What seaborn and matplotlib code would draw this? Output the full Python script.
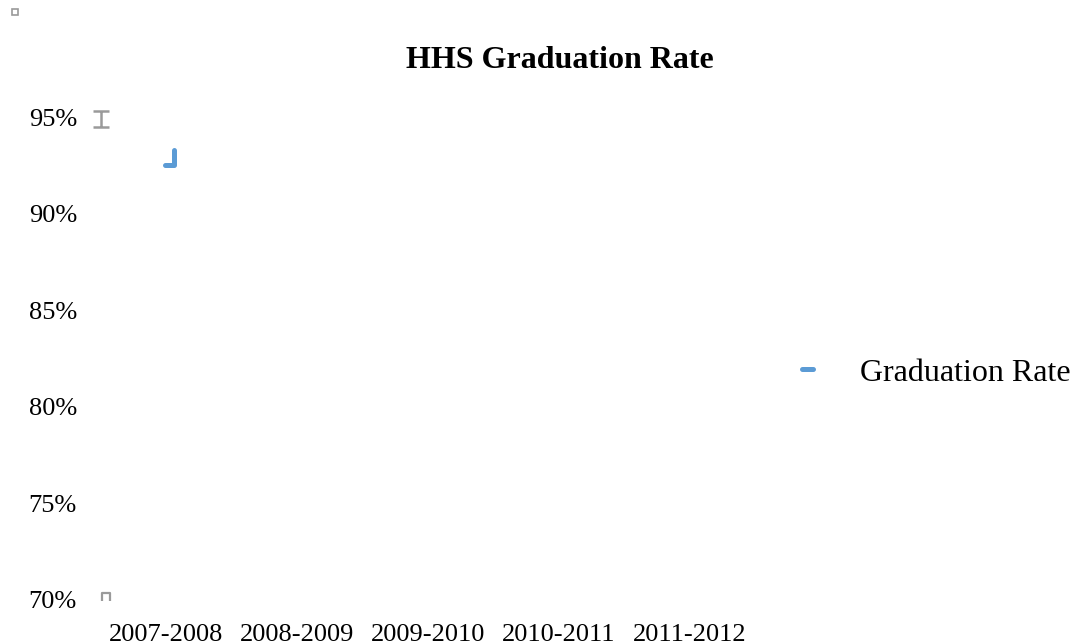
import seaborn as sns
import matplotlib.pyplot as plt
import numpy as np
import pandas as pd
from matplotlib.path import Path
from matplotlib.markers import MarkerStyle
from matplotlib.lines import Line2D

# data
years = ["2007-2008", "2008-2009", "2009-2010", "2010-2011", "2011-2012"]
grad_rate = [92.54, np.nan, np.nan, np.nan, np.nan]
y_ticks = [70, 75, 80, 85, 90, 95]

df = pd.DataFrame({"pos": np.arange(len(years)), "rate": grad_rate})

sns.set_theme(style="white")
plt.rcParams['font.family'] = ['Liberation Serif', 'DejaVu Serif']
plt.rcParams['text.color'] = 'black'

blue = "#5B9BD5"
grey = "#9a9a9a"

fig = plt.figure(figsize=(10.78, 6.44), dpi=100)
ax = fig.add_axes([100.5 / 1078, 44 / 644, 655 / 1078, 483 / 644])

# the squashed line shows up as a little L shape
l_mark = MarkerStyle(Path([(-0.05, 0), (0.5, 0), (0.5, 1.0)],
                          [Path.MOVETO, Path.LINETO, Path.LINETO]),
                     fillstyle="none", joinstyle="round", capstyle="round")
sns.lineplot(data=df, x="pos", y="rate", ax=ax, color=blue, linewidth=3.6,
             marker=l_mark, markersize=22, markeredgewidth=3.6,
             markeredgecolor=blue, legend=False)

ax.set_xlim(-0.5, len(years) - 0.5)
ax.set_ylim(70, 95)
ax.set_xticks(range(len(years)), years)
ax.set_yticks(y_ticks, [f"{v}%" for v in y_ticks])
ax.tick_params(axis="x", length=0, pad=17, labelsize=19, colors="black")
ax.tick_params(axis="y", length=0, pad=17, labelsize=19, colors="black")
ax.set_xlabel("")
ax.set_ylabel("")
ax.grid(False)
sns.despine(ax=ax, left=True, bottom=True)

# collapsed axis glyphs
ibeam = MarkerStyle(Path([(-0.9, 1), (0.9, 1), (0, 1), (0, -1), (-0.9, -1), (0.9, -1)],
                         [Path.MOVETO, Path.LINETO, Path.MOVETO, Path.LINETO,
                          Path.MOVETO, Path.LINETO]), fillstyle="none")
cap = MarkerStyle(Path([(-0.9, -1), (-0.9, 1), (0.9, 1), (0.9, -1)],
                       [Path.MOVETO, Path.LINETO, Path.LINETO, Path.LINETO]),
                  fillstyle="none")
ytr = ax.get_yaxis_transform()
ax.plot([0], [94.9], marker=ibeam, ms=12, mew=1.8, color=grey,
        transform=ytr, clip_on=False)
ax.plot([0.009], [70.15], marker=cap, ms=6, mew=1.6, color=grey,
        transform=ytr, clip_on=False)
fig.add_artist(Line2D([14.5 / 1078], [1 - 12 / 644], marker="s", ms=5,
                      mew=1.2, fillstyle="none", color=grey,
                      transform=fig.transFigure))

fig.suptitle("HHS Graduation Rate", x=560 / 1078, y=1 - 60 / 644,
             va="center", fontsize=23, fontweight="bold", color="black")

handle = Line2D([], [], color=blue, linewidth=3.6, solid_capstyle="round")
fig.legend([handle], ["Graduation Rate"], loc="center left",
           bbox_to_anchor=(802 / 1078, 1 - 373 / 644), frameon=False,
           fontsize=23, handlelength=0.35, handletextpad=1.45,
           borderpad=0, borderaxespad=0, labelcolor="black")

plt.savefig("out.png", dpi=100)
